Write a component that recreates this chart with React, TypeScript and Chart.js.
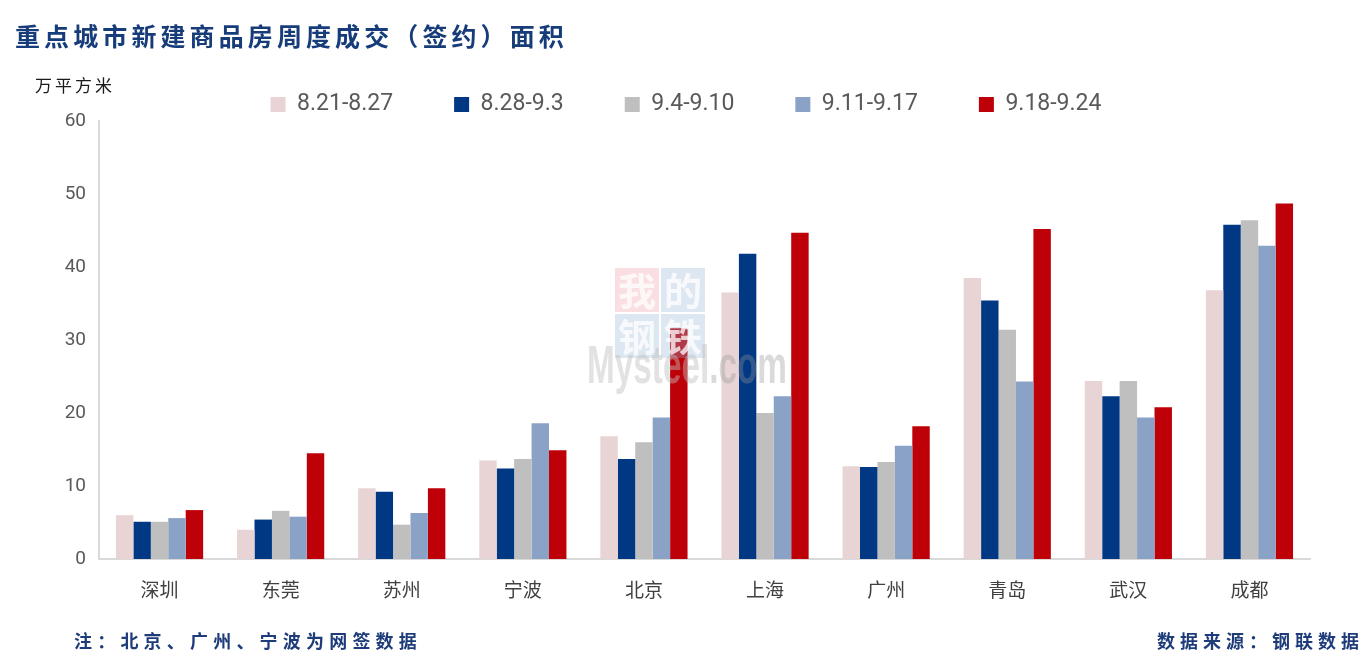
import React, { useEffect, useRef } from "react";
import { Chart, registerables } from "chart.js";

Chart.register(...registerables);

const categories = ["深圳", "东莞", "苏州", "宁波", "北京", "上海", "广州", "青岛", "武汉", "成都"];
const seriesNames = ["8.21-8.27", "8.28-9.3", "9.4-9.10", "9.11-9.17", "9.18-9.24"];
const week1 = [6.0, 4.0, 9.7, 13.5, 16.8, 36.5, 12.7, 38.5, 24.4, 36.8];
const week2 = [5.1, 5.4, 9.2, 12.4, 13.7, 41.8, 12.6, 35.4, 22.3, 45.8];
const week3 = [5.1, 6.6, 4.7, 13.7, 16.0, 20.0, 13.3, 31.4, 24.4, 46.4];
const week4 = [5.6, 5.8, 6.3, 18.6, 19.4, 22.3, 15.5, 24.3, 19.4, 42.9];
const week5 = [6.7, 14.5, 9.7, 14.9, 31.6, 44.7, 18.2, 45.2, 20.8, 48.7];
const yTicks = [0, 10, 20, 30, 40, 50, 60];

const seriesColors = ["#E8D4D4", "#003884", "#BFBFBF", "#8AA2C6", "#BE0008"];

const legendTrim = {
  id: "legendTrim",
  beforeLayout(chart: any) {
    const lg = chart.legend;
    if (lg && !lg.__trimmed) {
      const orig = lg.fit;
      lg.fit = function () {
        orig.call(this);
        this.height -= 5;
      };
      lg.__trimmed = true;
    }
  },
};

const watermark = {
  id: "watermark",
  afterDatasetsDraw(chart: any) {
    const ctx = chart.ctx;
    const x0 = 615;
    const y0 = 268;
    const s = 44;
    const g = 2;
    ctx.save();
    const cells = [
      { t: "我", c: "rgba(240,150,160,0.30)", x: x0, y: y0 },
      { t: "的", c: "rgba(150,180,215,0.32)", x: x0 + s + g, y: y0 },
      { t: "钢", c: "rgba(150,180,215,0.32)", x: x0, y: y0 + s + g },
      { t: "铁", c: "rgba(150,180,215,0.32)", x: x0 + s + g, y: y0 + s + g },
    ];
    for (const cell of cells) {
      ctx.fillStyle = cell.c;
      ctx.fillRect(cell.x, cell.y, s, s);
      ctx.fillStyle = "rgba(255,255,255,0.75)";
      ctx.font = "bold 38px 'Noto Sans CJK SC'";
      ctx.textAlign = "center";
      ctx.textBaseline = "middle";
      ctx.fillText(cell.t, cell.x + s / 2, cell.y + s / 2 + 1);
    }
    ctx.font = "bold 54px 'Liberation Sans'";
    ctx.textAlign = "left";
    ctx.textBaseline = "alphabetic";
    const w1 = ctx.measureText("Mysteel").width;
    const w2 = ctx.measureText(".com").width;
    const targetW = 200;
    const sc = targetW / (w1 + w2);
    ctx.translate(587, 383);
    ctx.scale(sc, 1);
    ctx.fillStyle = "rgba(190,190,190,0.45)";
    ctx.fillText("Mysteel", 0, 0);
    ctx.fillStyle = "rgba(150,150,150,0.35)";
    ctx.fillText(".com", w1, 0);
    ctx.restore();
  },
};

export default function App() {
  const ref = useRef<HTMLCanvasElement | null>(null);

  useEffect(() => {
    if (!ref.current) return;
    const data = [week1, week2, week3, week4, week5];
    const chart = new Chart(ref.current, {
      type: "bar",
      data: {
        labels: categories,
        datasets: seriesNames.map((name, i) => ({
          label: name,
          data: data[i],
          backgroundColor: seriesColors[i],
          borderWidth: 0,
          categoryPercentage: 0.72,
          barPercentage: 1.0,
        })),
      },
      options: {
        animation: false,
        responsive: false,
        maintainAspectRatio: false,
        layout: { padding: { left: 0, right: 0, top: 32, bottom: 36 } },
        plugins: {
          title: { display: false },
          tooltip: { enabled: false },
          legend: {
            display: true,
            position: "top",
            labels: {
              boxWidth: 15,
              boxHeight: 15,
              padding: 61,
              color: "#595959",
              font: { family: "Roboto", size: 23 },
            },
          },
        },
        scales: {
          x: {
            grid: { display: false, drawTicks: false },
            border: { display: true, color: "#D9D9D9", width: 2 },
            ticks: {
              color: "#404040",
              padding: 19,
              font: { family: "'Noto Sans CJK SC'", size: 19 },
            },
            afterFit: (scale: any) => {
              scale.height = 70;
            },
          },
          y: {
            min: 0,
            max: 60,
            afterBuildTicks: (scale: any) => {
              scale.ticks = yTicks.map((v) => ({ value: v }));
            },
            grid: { display: false, drawTicks: false },
            border: { display: true, color: "#D9D9D9", width: 2 },
            ticks: {
              color: "#595959",
              padding: 13,
              font: { family: "Roboto", size: 19 },
            },
            afterFit: (scale: any) => {
              scale.width = 99;
            },
          },
          yRight: {
            position: "right",
            display: true,
            min: 0,
            max: 60,
            grid: { display: false, drawTicks: false },
            border: { display: false },
            ticks: { display: false },
            afterFit: (scale: any) => {
              scale.width = 62;
            },
          },
        },
      },
      plugins: [legendTrim, watermark],
    });
    return () => chart.destroy();
  }, []);

  const footStyle: React.CSSProperties = {
    position: "absolute",
    top: 628,
    fontFamily: "'Noto Sans CJK SC'",
    fontWeight: 700,
    fontSize: 18,
    letterSpacing: 5.2,
    color: "#1F3C7A",
    whiteSpace: "nowrap",
    lineHeight: "24px",
  };

  return (
    <div style={{ position: "absolute", left: 0, top: 0, width: 1372, height: 665, background: "#fff", overflow: "hidden" }}>
      <canvas ref={ref} width={1372} height={665} style={{ position: "absolute", left: 0, top: 0, width: 1372, height: 665 }} />
      <div
        style={{
          position: "absolute",
          left: 15,
          top: 18,
          fontFamily: "'Noto Sans CJK SC'",
          fontWeight: 700,
          fontSize: 25,
          letterSpacing: 4.1,
          color: "#173C7A",
          whiteSpace: "nowrap",
          lineHeight: "34px",
        }}
      >
        重点城市新建商品房周度成交（签约）面积
      </div>
      <div
        style={{
          position: "absolute",
          left: 35,
          top: 73,
          fontFamily: "'Noto Sans CJK SC'",
          fontSize: 17,
          letterSpacing: 3,
          color: "#1a1a1a",
          whiteSpace: "nowrap",
          lineHeight: "24px",
        }}
      >
        万平方米
      </div>
      <div style={{ ...footStyle, left: 74 }}>注：北京、广州、宁波为网签数据</div>
      <div style={{ ...footStyle, right: 8, letterSpacing: 5 }}>数据来源：钢联数据</div>
    </div>
  );
}
